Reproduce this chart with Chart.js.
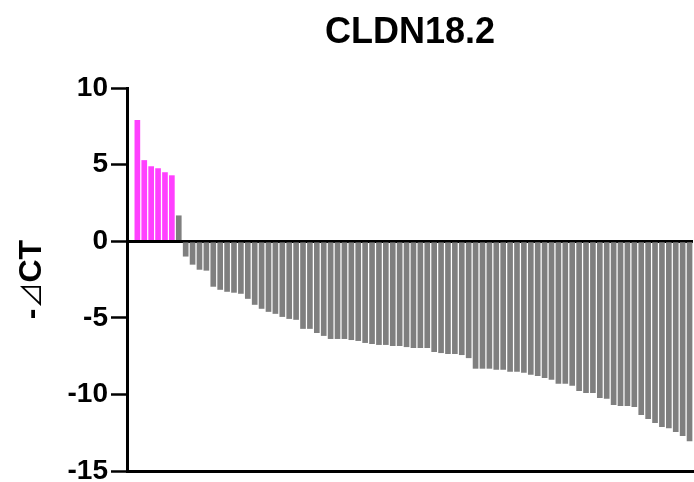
<!DOCTYPE html>
<html>
<head>
<meta charset="utf-8">
<script src="https://cdn.jsdelivr.net/npm/chart.js@4.4.1/dist/chart.umd.min.js"></script>
<style>
  html, body { margin: 0; padding: 0; background: #fff; }
  #wrap { width: 694px; height: 482px; }
</style>
</head>
<body>
<div id="wrap"><canvas id="c" width="694" height="482"></canvas></div>
<script>
// CLDN18.2 expression per sample (-ΔCT), sorted high to low
const chartTitle = 'CLDN18.2';
const yTitleParts = ['-', '⊿', 'CT'];
const yTicks = [-15, -10, -5, 0, 5, 10];

// high-expression samples (highlighted)
const highValues = [7.89, 5.27, 4.87, 4.74, 4.48, 4.28];
// remaining samples
const otherValues = [
  1.66, -0.98, -1.51, -1.84, -1.90, -2.95, -3.15, -3.28, -3.34, -3.41,
  -3.74, -4.13, -4.39, -4.59, -4.72, -4.92, -5.05, -5.11, -5.70, -5.70,
  -5.97, -6.16, -6.36, -6.36, -6.36, -6.43, -6.49, -6.62, -6.69, -6.75,
  -6.75, -6.82, -6.82, -6.89, -6.95, -6.95, -6.95, -7.21, -7.28, -7.34,
  -7.34, -7.41, -7.61, -8.30, -8.30, -8.30, -8.37, -8.37, -8.50, -8.50,
  -8.57, -8.70, -8.77, -8.90, -9.03, -9.29, -9.29, -9.42, -9.75, -9.88,
  -9.88, -10.21, -10.27, -10.67, -10.73, -10.73, -10.80, -11.32, -11.59, -11.85,
  -12.11, -12.18, -12.44, -12.70, -13.03
];

const HIGH_COLOR = '#FF40FF';
const OTHER_COLOR = '#7F7F7F';
const FONT = 'Liberation Sans, Arial, sans-serif';

const allValues = highValues.concat(otherValues);
const points = allValues.map((v, i) => ({ x: i, y: v }));
const colors = allValues.map((v, i) => i < highValues.length ? HIGH_COLOR : OTHER_COLOR);

// chart title centred over the plotting area, plus the rotated y-axis title
const titlesPlugin = {
  id: 'titles',
  afterDraw(chart) {
    const { ctx, chartArea } = chart;
    ctx.save();
    ctx.font = 'bold 36px ' + FONT;
    ctx.fillStyle = '#000';
    ctx.textAlign = 'center';
    ctx.textBaseline = 'alphabetic';
    ctx.fillText(chartTitle, (chartArea.left + chartArea.right) / 2, 43);
    ctx.restore();

    // y-axis title: bold text with a thin delta glyph
    const fonts = ['bold 32px ' + FONT, '26px "Noto Sans CJK SC", sans-serif', 'bold 32px ' + FONT];
    ctx.save();
    ctx.fillStyle = '#000';
    ctx.textBaseline = 'alphabetic';
    ctx.textAlign = 'left';
    const widths = yTitleParts.map((t, i) => { ctx.font = fonts[i]; return ctx.measureText(t).width; });
    const total = widths.reduce((a, b) => a + b, 0);
    const cy = (chartArea.top + chartArea.bottom) / 2;
    ctx.translate(41, cy);
    ctx.rotate(-Math.PI / 2);
    let x = -total / 2;
    yTitleParts.forEach((t, i) => {
      ctx.font = fonts[i];
      ctx.fillText(t, x, 0);
      x += widths[i];
    });
    ctx.restore();
  }
};

new Chart(document.getElementById('c'), {
  type: 'bar',
  data: {
    datasets: [{
      data: points,
      backgroundColor: colors,
      borderWidth: 0,
      barThickness: 5
    }]
  },
  plugins: [titlesPlugin],
  options: {
    responsive: false,
    animation: false,
    layout: { padding: { top: 88, right: 1, bottom: 11, left: 0 } },
    plugins: {
      legend: { display: false },
      tooltip: { enabled: false },
      title: { display: false }
    },
    scales: {
      x: {
        type: 'linear',
        offset: false,
        min: -1.5,
        max: allValues.length - 0.5,
        ticks: { display: false },
        grid: { display: false, drawTicks: false },
        border: { display: true, color: '#000', width: 3 }
      },
      y: {
        min: yTicks[0],
        max: yTicks[yTicks.length - 1],
        z: 1,
        afterBuildTicks(scale) {
          scale.ticks = yTicks.map(v => ({ value: v }));
        },
        afterFit(scale) {
          scale.width = 127;
          scale.paddingTop = 0;
          scale.paddingBottom = 0;
        },
        ticks: {
          color: '#000',
          padding: 3,
          font: { family: FONT, size: 28, weight: 'bold' }
        },
        grid: {
          color: (c) => (c.tick && c.tick.value === 0) ? '#000' : 'rgba(0,0,0,0)',
          lineWidth: 3,
          drawTicks: true,
          tickLength: 16,
          tickColor: '#000',
          tickWidth: 2.5
        },
        border: { display: true, color: '#000', width: 3 },
        title: { display: false }
      }
    }
  }
});
</script>
</body>
</html>
